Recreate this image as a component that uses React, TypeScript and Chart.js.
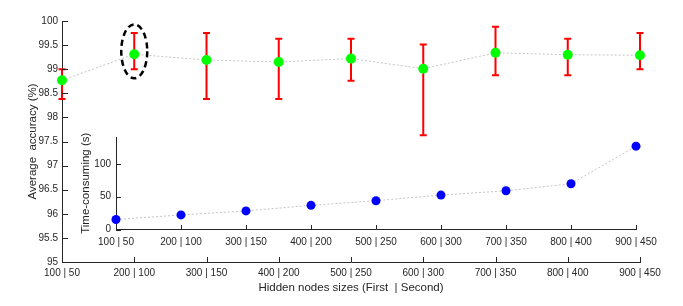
import React, { useEffect, useRef } from 'react';
import { Chart, registerables } from 'chart.js';

Chart.register(...registerables);

// ---------- data ----------
const hiddenSizes = ['100 | 50', '200 | 100', '300 | 150', '400 | 200', '500 | 250', '600 | 300', '700 | 350', '800 | 400', '900 | 450'];
const accMean = [98.77, 99.31, 99.19, 99.15, 99.22, 99.01, 99.34, 99.3, 99.29];
const accUpper = [99.0, 99.75, 99.75, 99.63, 99.63, 99.51, 99.88, 99.63, 99.75];
const accLower = [98.38, 99.0, 98.38, 98.38, 98.76, 97.63, 98.875, 98.875, 99.0];
const timeCost = [15.2, 22.2, 28.3, 36.8, 43.9, 52.5, 59, 69.7, 127];
const accRange = [95, 100];
const accStep = 0.5;
const timeRange = [0, 141];
const timeStep = 50;
const highlightIndex = 1;
const highlightValue = 99.37;

const FONT = "'Liberation Sans', Arial, Helvetica, sans-serif";
const INK = '#262626';
Chart.defaults.font.family = FONT;

const inwardTicks = {
  id: 'inwardTicks',
  afterDraw(chart: any, _args: any, opts: any) {
    const { ctx, chartArea } = chart;
    ctx.save();
    ctx.strokeStyle = INK;
    ctx.lineWidth = 1;
    for (const s of Object.values(chart.scales) as any[]) {
      const len = s.isHorizontal() ? opts.x : opts.y;
      s.ticks.forEach((_: any, i: number) => {
        const p = s.getPixelForTick(i);
        ctx.beginPath();
        if (s.isHorizontal()) {
          const x = Math.round(p) + 0.5;
          ctx.moveTo(x, chartArea.bottom);
          ctx.lineTo(x, chartArea.bottom - len);
        } else {
          const y = Math.round(p) + 0.5;
          ctx.moveTo(chartArea.left, y);
          ctx.lineTo(chartArea.left + len, y);
        }
        ctx.stroke();
      });
    }
    ctx.restore();
  },
};

const errorBars = {
  id: 'errorBars',
  beforeDatasetsDraw(chart: any) {
    const { ctx } = chart;
    const xs = chart.scales.x;
    const ys = chart.scales.y;
    ctx.save();
    ctx.strokeStyle = '#ff0000';
    ctx.lineWidth = 2;
    accMean.forEach((_, i) => {
      const px = xs.getPixelForValue(i);
      const top = ys.getPixelForValue(accUpper[i]);
      const bot = ys.getPixelForValue(accLower[i]);
      ctx.beginPath();
      ctx.moveTo(px, top);
      ctx.lineTo(px, bot);
      ctx.moveTo(px - 3.5, top);
      ctx.lineTo(px + 3.5, top);
      ctx.moveTo(px - 3.5, bot);
      ctx.lineTo(px + 3.5, bot);
      ctx.stroke();
    });
    ctx.restore();
  },
  afterDatasetsDraw(chart: any) {
    const { ctx } = chart;
    const cx = chart.scales.x.getPixelForValue(highlightIndex);
    const cy = chart.scales.y.getPixelForValue(highlightValue);
    ctx.save();
    ctx.strokeStyle = '#000000';
    ctx.lineWidth = 2.5;
    ctx.setLineDash([6, 4]);
    ctx.beginPath();
    ctx.ellipse(cx, cy, 13, 27, 0, 0, Math.PI * 2);
    ctx.stroke();
    ctx.restore();
  },
};

export default function App() {
  const mainRef = useRef<HTMLCanvasElement>(null);
  const insetRef = useRef<HTMLCanvasElement>(null);

  useEffect(() => {
    const tickFont = { family: FONT, size: 10 };
    const titleFont = { family: FONT, size: 11.5 };

    const main = new Chart(mainRef.current!, {
      type: 'line',
      data: {
        labels: hiddenSizes,
        datasets: [
          {
            data: accMean,
            borderColor: '#c4c4c4',
            borderWidth: 1,
            borderDash: [2, 2],
            pointRadius: 5,
            pointBackgroundColor: '#00ff00',
            pointBorderColor: '#00ff00',
            pointBorderWidth: 0,
            tension: 0,
            clip: false as any,
          },
        ],
      },
      options: {
        responsive: false,
        animation: false,
        devicePixelRatio: 1,
        layout: { padding: { left: 0, top: 21, right: 43, bottom: 0 } },
        plugins: {
          legend: { display: false },
          tooltip: { enabled: false },
          inwardTicks: { x: 5, y: 6 },
        } as any,
        scales: {
          x: {
            type: 'category',
            offset: false,
            grid: { display: false, drawTicks: false },
            border: { display: true, color: INK, width: 1 },
            ticks: { color: INK, font: tickFont, padding: 5.5, autoSkip: false, maxRotation: 0 },
            title: {
              display: true,
              text: 'Hidden nodes sizes (First  | Second)',
              color: INK,
              font: titleFont,
              padding: { top: 0, bottom: 11 },
            },
            afterFit: (s: any) => {
              s.height = 44;
            },
          },
          y: {
            min: accRange[0],
            max: accRange[1],
            grid: { display: false, drawTicks: false },
            border: { display: true, color: INK, width: 1 },
            ticks: { stepSize: accStep, color: INK, font: tickFont, padding: 4, callback: (v: any) => String(v) },
            title: {
              display: true,
              text: 'Average  accuracy (%)',
              color: INK,
              font: titleFont,
              padding: { top: 26, bottom: 0 },
            },
            afterFit: (s: any) => {
              s.width = 62;
            },
          },
        },
      },
      plugins: [inwardTicks, errorBars],
    });

    const inset = new Chart(insetRef.current!, {
      type: 'line',
      data: {
        labels: hiddenSizes,
        datasets: [
          {
            data: timeCost,
            borderColor: '#c4c4c4',
            borderWidth: 1,
            borderDash: [2, 2],
            pointRadius: 4.5,
            pointBackgroundColor: '#0000ff',
            pointBorderColor: '#0000ff',
            pointBorderWidth: 0,
            tension: 0,
            clip: false as any,
          },
        ],
      },
      options: {
        responsive: false,
        animation: false,
        devicePixelRatio: 1,
        layout: { padding: { left: 0, top: 10.7, right: 34, bottom: 0 } },
        plugins: {
          legend: { display: false },
          tooltip: { enabled: false },
          inwardTicks: { x: 4.5, y: 5 },
        } as any,
        scales: {
          x: {
            type: 'category',
            offset: false,
            grid: { display: false, drawTicks: false },
            border: { display: true, color: INK, width: 1 },
            ticks: { color: INK, font: tickFont, padding: 6.5, autoSkip: false, maxRotation: 0 },
            afterFit: (s: any) => {
              s.height = 24.5;
            },
          },
          y: {
            min: timeRange[0],
            max: timeRange[1],
            grid: { display: false, drawTicks: false },
            border: { display: true, color: INK, width: 1 },
            ticks: { stepSize: timeStep, color: INK, font: tickFont, padding: 5, callback: (v: any) => String(v) },
            afterBuildTicks: (s: any) => {
              s.ticks = s.ticks.filter((t: any) => t.value % timeStep === 0);
            },
            title: {
              display: true,
              text: 'Time-consuming (s)',
              color: INK,
              font: titleFont,
              padding: { top: 9, bottom: 0 },
            },
            afterFit: (s: any) => {
              s.width = 46;
            },
          },
        },
      },
      plugins: [inwardTicks],
    });

    return () => {
      main.destroy();
      inset.destroy();
    };
  }, []);

  return (
    <div style={{ position: 'fixed', left: 0, top: 0, width: 683, height: 306, background: '#ffffff' }}>
      <canvas ref={mainRef} width={683} height={306} style={{ position: 'absolute', left: 0, top: 0 }} />
      <canvas ref={insetRef} width={600} height={128} style={{ position: 'absolute', left: 70, top: 126 }} />
    </div>
  );
}
